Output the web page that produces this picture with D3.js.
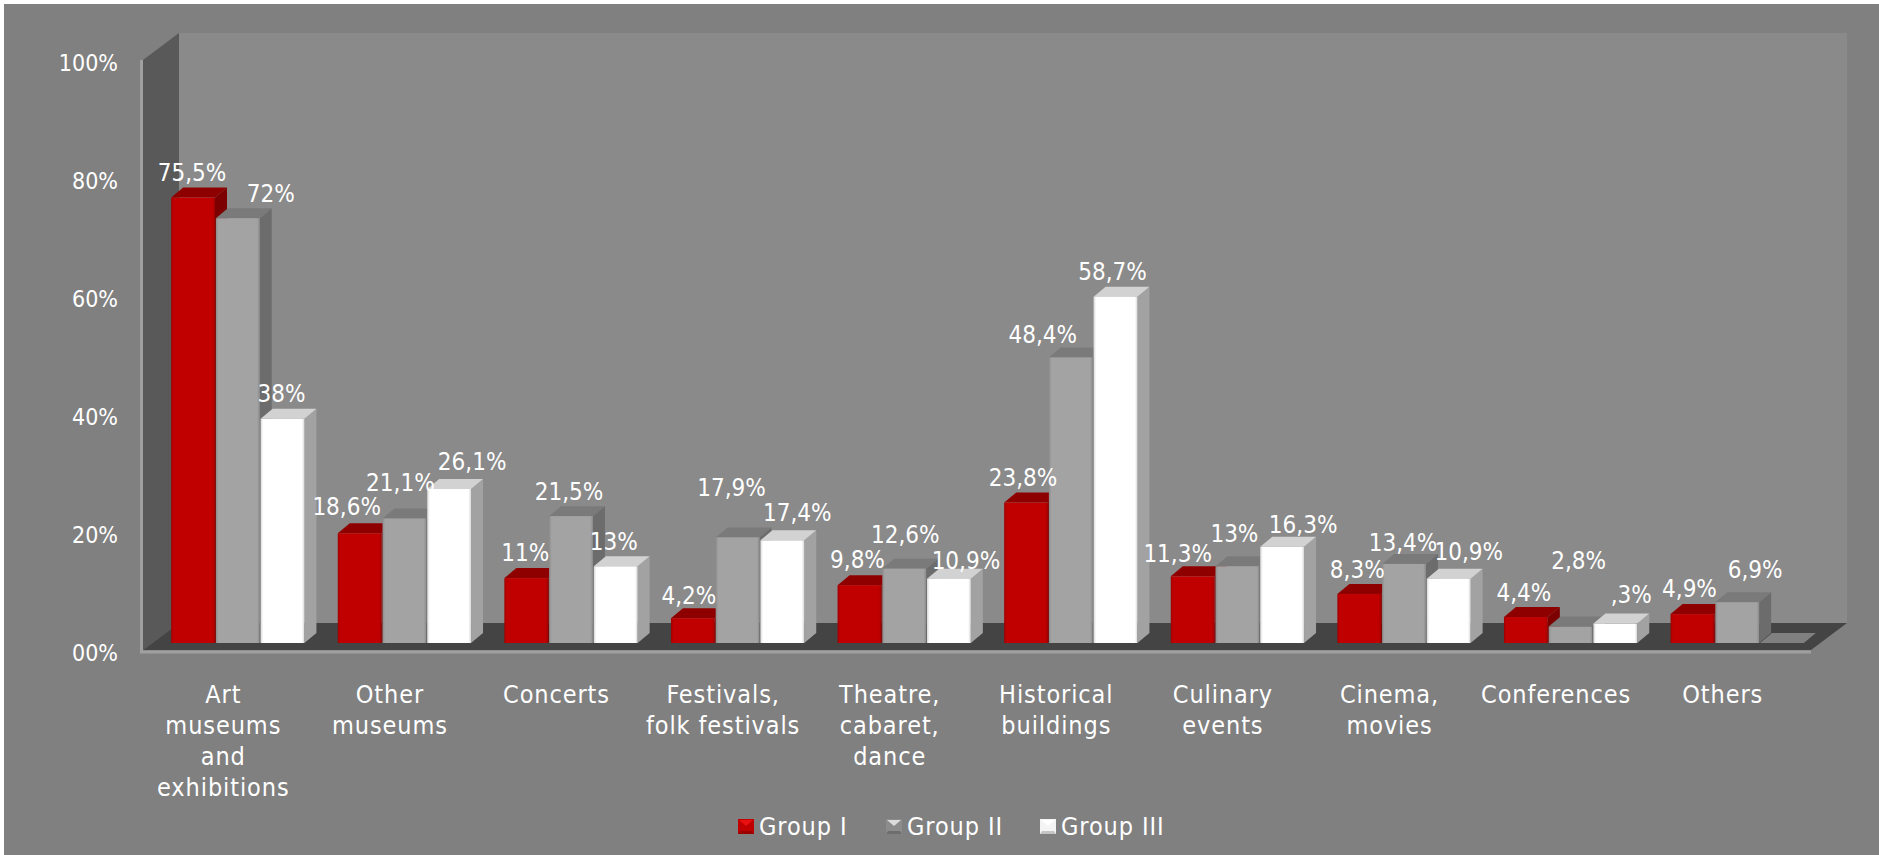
<!DOCTYPE html>
<html>
<head>
<meta charset="utf-8">
<script src="https://cdn.jsdelivr.net/npm/d3@7"></script>
<style>
  html, body { margin: 0; padding: 0; background: #fff; overflow: hidden; }
  text { font-family: "DejaVu Sans Condensed", "DejaVu Sans", sans-serif; font-stretch: condensed; fill: #fff; }
  .wide { letter-spacing: 0.9px; }
</style>
</head>
<body>
<svg id="chart" width="1879" height="855"></svg>
<script>
// Cultural activities by visitor group, percent of respondents
const categories = [
  "Art museums and exhibitions", "Other museums", "Concerts", "Festivals, folk festivals",
  "Theatre, cabaret, dance", "Historical buildings", "Culinary events", "Cinema, movies",
  "Conferences", "Others"
];
const categoryLines = [
  ["Art", "museums", "and", "exhibitions"], ["Other", "museums"], ["Concerts"],
  ["Festivals,", "folk festivals"], ["Theatre,", "cabaret,", "dance"], ["Historical", "buildings"],
  ["Culinary", "events"], ["Cinema,", "movies"], ["Conferences"], ["Others"]
];
const seriesNames = ["Group I", "Group II", "Group III"];
const groupI   = [75.5, 18.6, 11, 4.2, 9.8, 23.8, 11.3, 8.3, 4.4, 4.9];
const groupII  = [72, 21.1, 21.5, 17.9, 12.6, 48.4, 13, 13.4, 2.8, 6.9];
// The Conferences figure is printed as ",3%" beside a bar of about 3.3; Others has no figure.
const groupIII = [38, 26.1, 13, 17.4, 10.9, 58.7, 16.3, 10.9, 3.3, 0];
const groupIIILabels = ["38%", "26,1%", "13%", "17,4%", "10,9%", "58,7%", "16,3%", "10,9%", ",3%", null];
const yTicks = [0, 20, 40, 60, 80, 100];

// Hand placement of the value labels, relative to the bar centre and bar top
const labelDx = [
  [-1, -13, -1, -4, -2, -3, -15, -2, -2, -3],
  [33, -4, -2, -6, 1, -28, -3, -1, 8, 18],
  [-1, 23, -2, 15, 17, -3, 21, 20, 16, 0]
];
const labelDy = [
  [-25, -26, -25, -22, -25, -25, -22, -24, -24, -25],
  [-24, -36, -24, -49, -34, -22, -32, -21, -65, -32],
  [-25, -27, -24, -27, -18, -25, -22, -27, -29, 0]
];

const fmt = v => String(v).replace(".", ",") + "%";
const series = [
  { name: seriesNames[0], values: groupI,  labels: groupI.map(fmt),
    front: "#c00000", edge: "#a00000", side: "#7c0000", top: "#8e0000",
    keyBody: "#c00000", keyTop: "#e81010", keyBottom: "#9a0000" },
  { name: seriesNames[1], values: groupII, labels: groupII.map(fmt),
    front: "#a3a3a3", edge: "#8c8c8c", side: "#6c6c6c", top: "#7a7a7a",
    keyBody: "#8c8c8c", keyTop: "#dcdcdc", keyBottom: "#6e6e6e" },
  { name: seriesNames[2], values: groupIII, labels: groupIIILabels,
    front: "#ffffff", edge: "#d8d8d8", side: "#a2a2a2", top: "#d2d2d2",
    keyBody: "#f4f4f4", keyTop: "#ffffff", keyBottom: "#c4c4c4" }
];

const svg = d3.select("#chart");
const defs = svg.append("defs");

// Oblique projection used by the walls, floor and bar depth
const depth = { dx: 12, dy: 10 };
const wallDepth = { dx: 36, dy: 27 };
const barShift = { dx: 14.5, dy: -7 };

const x = d3.scaleBand().domain(categories).range([140, 1806]).paddingInner(0.2).paddingOuter(0.1);
const xInner = d3.scaleBand().domain(seriesNames).range([0, x.bandwidth()]).paddingInner(0.02);
const y = d3.scaleLinear().domain([0, 100]).range([650, 60]);

const pts = a => a.map(p => p.join(",")).join(" ");

// Panel background
svg.append("rect").attr("x", 4).attr("y", 4).attr("width", 1875).attr("height", 851).attr("fill", "#808080");

// Back wall, side wall, floor and the light front rim
const plotLeft = 143, plotRight = 1811, plotTop = y(100), plotBottom = y(0);
svg.append("rect").attr("x", plotLeft + wallDepth.dx).attr("y", plotTop - wallDepth.dy)
  .attr("width", plotRight - plotLeft).attr("height", plotBottom - plotTop)
  .attr("fill", "#8a8a8a");
svg.append("polygon").attr("fill", "#595959").attr("points", pts([
  [plotLeft, plotTop], [plotLeft + wallDepth.dx, plotTop - wallDepth.dy],
  [plotLeft + wallDepth.dx, plotBottom - wallDepth.dy], [plotLeft, plotBottom]
]));
svg.append("polygon").attr("fill", "#444444").attr("points", pts([
  [plotLeft, plotBottom], [plotLeft + wallDepth.dx, plotBottom - wallDepth.dy],
  [plotRight + wallDepth.dx, plotBottom - wallDepth.dy], [plotRight, plotBottom]
]));
svg.append("path").attr("fill", "none").attr("stroke", "#a0a0a0").attr("stroke-width", 3)
  .attr("d", `M${plotLeft - 1.5},${plotTop}V${plotBottom + 2}H${plotRight}`);

// Y axis labels
const yAxis = d3.axisLeft(y).tickValues(yTicks).tickSize(0).tickPadding(0)
  .tickFormat(d => (d === 0 ? "00%" : d + "%"));
const yG = svg.append("g").attr("transform", "translate(118,3)").call(yAxis);
yG.select(".domain").remove();
yG.selectAll("text").style("font-size", "23px").style("fill", "#fff")
  .style("font-family", '"DejaVu Sans Condensed", "DejaVu Sans", sans-serif');

// Front-face gradients that give the bars their soft bevel
series.forEach((s, i) => {
  const g = defs.append("linearGradient").attr("id", "front" + i).attr("x1", 0).attr("x2", 1).attr("y1", 0).attr("y2", 0);
  [[0, s.edge], [0.06, s.front], [0.94, s.front], [1, s.edge]].forEach(([o, c]) =>
    g.append("stop").attr("offset", o).attr("stop-color", c));
});

// Bars are painted back to front within each category, left to right
const barsG = svg.append("g");
categories.forEach((cat, ci) => {
  series.forEach((s, si) => {
    const v = s.values[ci];
    const x0 = x(cat) + xInner(s.name) + barShift.dx;
    const w = xInner.bandwidth();
    const base = y(0) + barShift.dy;
    const top = y(v) + barShift.dy;
    const g = barsG.append("g");
    if (v > 0) {
      g.append("polygon").attr("fill", s.side).attr("points", pts([
        [x0 + w, top], [x0 + w + depth.dx, top - depth.dy],
        [x0 + w + depth.dx, base - depth.dy], [x0 + w, base]
      ]));
    }
    g.append("polygon").attr("fill", v > 0 ? s.top : "#808080").attr("points", pts([
      [x0, top], [x0 + depth.dx, top - depth.dy],
      [x0 + w + depth.dx, top - depth.dy], [x0 + w, top]
    ]));
    if (v > 0) {
      g.append("rect").attr("x", x0).attr("y", top).attr("width", w).attr("height", base - top)
        .attr("fill", `url(#front${si})`);
    }
  });
});

// Value labels
const labelsG = svg.append("g");
series.forEach((s, si) => {
  categories.forEach((cat, ci) => {
    if (s.labels[ci] == null) return;
    const cx = x(cat) + xInner(s.name) + barShift.dx + xInner.bandwidth() / 2;
    const top = y(s.values[ci]) + barShift.dy;
    labelsG.append("text").attr("x", cx + labelDx[si][ci]).attr("y", top + labelDy[si][ci])
      .attr("text-anchor", "middle").attr("dominant-baseline", "central")
      .attr("font-size", 24).text(s.labels[ci]);
  });
});

// Category labels
const catG = svg.append("g");
categories.forEach((cat, ci) => {
  const t = catG.append("text").attr("class", "wide").attr("text-anchor", "middle").attr("font-size", 25)
    .attr("x", x(cat) + x.bandwidth() / 2).attr("y", 703);
  categoryLines[ci].forEach((ln, i) =>
    t.append("tspan").attr("x", x(cat) + x.bandwidth() / 2).attr("dy", i ? 31 : 0).text(ln));
});

// Legend
const legendX = d3.scaleOrdinal().domain(seriesNames).range([738, 886, 1040]);
const legend = svg.append("g");
series.forEach(s => {
  const lx = legendX(s.name);
  const g = legend.append("g").attr("transform", `translate(${lx},819)`);
  g.append("rect").attr("width", 16).attr("height", 15).attr("fill", s.keyBody);
  g.append("polygon").attr("fill", s.keyTop).attr("points", pts([[1, 1], [15, 1], [8, 7]]));
  g.append("polygon").attr("fill", s.keyBottom).attr("points", pts([[0, 15], [2, 12], [14, 12], [16, 15]]));
  legend.append("text").attr("class", "wide").attr("x", lx + 21).attr("y", 835).attr("font-size", 25).text(s.name);
});
</script>
</body>
</html>
